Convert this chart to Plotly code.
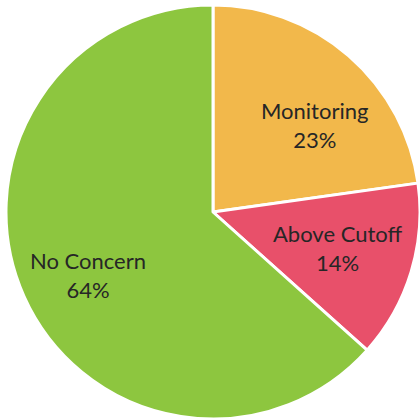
import plotly.graph_objects as go

labels = ["Monitoring", "Above Cutoff", "No Concern"]
values = [23, 14, 64]
pct_labels = ["23%", "14%", "64%"]
colors = ["#F2B84B", "#E8506A", "#8DC63F"]
# label anchor points (pixels in 420x420 canvas)
label_px = [(314, 125), (337, 248), (88, 275)]

W = H = 420
fig = go.Figure(go.Pie(
    labels=labels,
    values=values,
    sort=False,
    direction="clockwise",
    rotation=0,
    marker=dict(colors=colors, line=dict(color="white", width=3)),
    textinfo="none",
    domain=dict(x=[6/W, 1.0], y=[1/H, 415/H]),
    hoverinfo="skip",
))
for lab, pct, (px, py) in zip(labels, pct_labels, label_px):
    fig.add_annotation(
        x=px/W, y=1 - py/H, xref="paper", yref="paper",
        text=f"{lab}<br>{pct}", showarrow=False,
        font=dict(family="Lato", size=22, color="#262626"),
        align="center", xanchor="center", yanchor="middle",
    )
fig.update_layout(
    width=W, height=H,
    margin=dict(l=0, r=0, t=0, b=0),
    showlegend=False,
    paper_bgcolor="white",
    plot_bgcolor="white",
)
fig.write_html("out.html", config={"displayModeBar": False},
               post_script="document.body.style.margin='0';")
